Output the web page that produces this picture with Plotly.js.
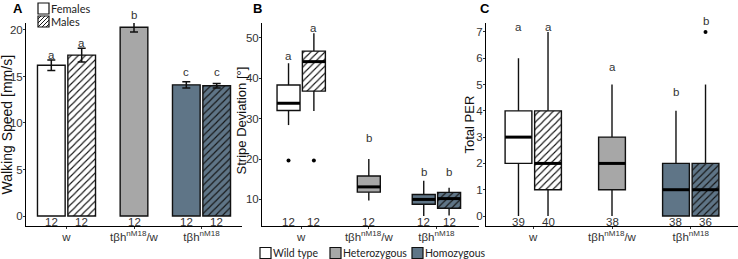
<!DOCTYPE html>
<html><head><meta charset="utf-8">
<script src="https://cdn.plot.ly/plotly-3.0.1.min.js"></script>
<style>html,body{margin:0;padding:0;background:#fff}#chart{width:738px;height:259px}</style>
</head><body><div id="chart"></div>
<script>
// ---------------- data ----------------
const groupLabels = ['w', 'tβh<sup>nM18</sup>/w', 'tβh<sup>nM18</sup>'];
const groupValues = [1, 2, 3];
const boxGroup = [1, 1, 2, 3, 3];
const boxSex = ['F', 'M', 'F', 'F', 'M'];
const boxGenotype = ['Wild type', 'Wild type', 'Heterozygous', 'Homozygous', 'Homozygous'];
const genotypeNames = ['Wild type', 'Heterozygous', 'Homozygous'];
const sexNames = ['Females', 'Males'];

// A: walking speed (mean ± SE)
const speedMean = [16.2, 17.3, 20.3, 14.1, 14.0];
const speedSE = [0.57, 0.73, 0.52, 0.34, 0.24];
const speedN = [12, 12, 12, 12, 12];
const speedLetters = ['a', 'a', 'b', 'c', 'c'];
const speedLetterY = [17.3, 18.6, 21.6, 15.5, 15.5];
const speedTicks = [0, 5, 10, 15, 20];

// B: stripe deviation (box stats)
const stripeLow = [28.4, 31.9, 9.75, 5.9, 6.0];
const stripeQ1 = [32.0, 36.8, 11.8, 8.8, 7.8];
const stripeMed = [33.8, 44.1, 13.1, 10.0, 10.2];
const stripeQ3 = [38.3, 46.7, 15.8, 11.2, 11.75];
const stripeHigh = [43.7, 51.1, 20.0, 14.6, 12.9];
const stripeOutBox = [0, 1];
const stripeOutVal = [19.6, 19.6];
const stripeN = [12, 12, 12, 12, 12];
const stripeLetters = ['a', 'a', 'b', 'b', 'b'];
const stripeLetterY = [45.5, 52.4, 25.3, 16.8, 16.8];
const stripeTicks = [10, 20, 30, 40, 50];

// C: total PER (box stats)
const perLow = [0, 0, 0, 0, 0];
const perQ1 = [2, 1, 1, 0, 0];
const perMed = [3, 2, 2, 1, 1];
const perQ3 = [4, 4, 3, 2, 2];
const perHigh = [6, 7, 5, 4, 5];
const perOutBox = [4];
const perOutVal = [7];
const perN = [39, 40, 38, 38, 36];
const perLetters = ['a', 'a', 'a', 'b', 'b'];
const perLetterY = [7.19, 7.19, 5.67, 4.73, 7.4];
const perTicks = [0, 1, 2, 3, 4, 5, 6, 7];

// ---------------- styles ----------------
const W = 738, H = 259;
const px = v => v / W, py = v => 1 - v / H;
const colorOf = {'Wild type': '#ffffff', 'Heterozygous': '#a7a7a7', 'Homozygous': '#5f7587'};
const fills = boxGenotype.map(g => colorOf[g]);
const SANS = 'Liberation Sans, Arial, sans-serif';
const LEG = 'Lato, Liberation Sans, sans-serif';
const LINE = '#111';

function positions(dodge) {
  return boxGroup.map((g, i) => {
    const members = boxGroup.filter(x => x === g).length;
    if (members === 1) return g;
    return g + (boxSex[i] === 'F' ? -dodge : dodge);
  });
}
const posA = positions(0.225), posBC = positions(0.1875);
const barW = 0.41, boxW = 0.34;

function markerFor(i) {
  const m = {color: fills[i], line: {color: LINE, width: 1.4}};
  if (boxSex[i] === 'M') {
    m.pattern = {shape: '/', fgcolor: '#141414', bgcolor: fills[i], fgopacity: 1, size: 5, solidity: 0.22, fillmode: 'replace'};
  }
  return m;
}

const traces = [];
// Panel A bars, one trace per bar
speedMean.forEach((v, i) => {
  traces.push({
    type: 'bar', x: [posA[i]], y: [v], width: barW, xaxis: 'x', yaxis: 'y',
    marker: markerFor(i),
    error_y: {type: 'data', array: [speedSE[i]], visible: true, color: LINE, thickness: 1.5, width: 4},
    hoverinfo: 'skip', showlegend: false
  });
});

function boxTraces(pos, lo, q1, med, q3, hi, outBox, outVal, xa, ya) {
  const out = [];
  pos.forEach((p, i) => {
    out.push({
      type: 'bar', x: [p], base: [q1[i]], y: [q3[i] - q1[i]], width: boxW, xaxis: xa, yaxis: ya,
      marker: markerFor(i), hoverinfo: 'skip', showlegend: false
    });
  });
  const wx = [], wy = [], mx = [], my = [];
  pos.forEach((p, i) => {
    wx.push(p, p, null, p, p, null);
    wy.push(lo[i], q1[i], null, q3[i], hi[i], null);
    mx.push(p - boxW / 2, p + boxW / 2, null);
    my.push(med[i], med[i], null);
  });
  out.push({type: 'scatter', mode: 'lines', x: wx, y: wy, xaxis: xa, yaxis: ya,
    line: {color: LINE, width: 1.4}, hoverinfo: 'skip', showlegend: false});
  out.push({type: 'scatter', mode: 'lines', x: mx, y: my, xaxis: xa, yaxis: ya,
    line: {color: '#000', width: 3}, hoverinfo: 'skip', showlegend: false});
  out.push({type: 'scatter', mode: 'markers', x: outBox.map(i => pos[i]), y: outVal, xaxis: xa, yaxis: ya,
    marker: {color: '#000', size: 4}, hoverinfo: 'skip', showlegend: false, cliponaxis: false});
  return out;
}
traces.push(...boxTraces(posBC, stripeLow, stripeQ1, stripeMed, stripeQ3, stripeHigh, stripeOutBox, stripeOutVal, 'x2', 'y2'));
traces.push(...boxTraces(posBC, perLow, perQ1, perMed, perQ3, perHigh, perOutBox, perOutVal, 'x3', 'y3'));

// ---------------- layout ----------------
const axCommon = {
  showline: true, linecolor: '#000', linewidth: 1, ticks: 'outside', ticklen: 2, tickwidth: 1,
  tickcolor: '#333', showgrid: false, zeroline: false, fixedrange: true, ticklabelstandoff: -2,
  tickfont: {family: SANS, size: 11.5, color: '#333'}
};
const yDom = [py(226), py(23)];
const rangeA = [-1.075, 20.75], rangeB = [3.42, 53.66], rangeC = [-0.38, 7.34];
const layout = {
  width: W, height: H, margin: {l: 0, r: 0, t: 0, b: 0},
  paper_bgcolor: '#fff', plot_bgcolor: 'rgba(0,0,0,0)', barmode: 'overlay', showlegend: false,
  font: {family: SANS, color: '#222'},
  xaxis: Object.assign({}, axCommon, {domain: [px(26), px(242)], range: [0.4, 3.6], tickvals: groupValues, ticktext: groupLabels, anchor: 'y'}),
  yaxis: Object.assign({}, axCommon, {domain: yDom, range: rangeA, tickvals: speedTicks, anchor: 'x'}),
  xaxis2: Object.assign({}, axCommon, {domain: [px(262), px(479)], range: [0.42, 3.63], tickvals: groupValues, ticktext: groupLabels, anchor: 'y2'}),
  yaxis2: Object.assign({}, axCommon, {domain: yDom, range: rangeB, tickvals: stripeTicks, anchor: 'x2'}),
  xaxis3: Object.assign({}, axCommon, {domain: [px(486), 1], range: [0.4, 3.6], tickvals: groupValues, ticktext: groupLabels, anchor: 'y3'}),
  yaxis3: Object.assign({}, axCommon, {domain: yDom, range: rangeC, tickvals: perTicks, anchor: 'x3'}),
  annotations: [], shapes: []
};
const ann = layout.annotations, shp = layout.shapes;

function panelLabels(pos, n, letters, letterY, range, xa, ya) {
  pos.forEach((p, i) => {
    ann.push({x: p, y: 0.022, xref: xa, yref: ya + ' domain', text: String(n[i]), showarrow: false,
      yanchor: 'middle', font: {family: SANS, size: 11.5, color: '#333'}});
    const frac = (letterY[i] - range[0]) / (range[1] - range[0]);
    ann.push({x: p, y: frac, xref: xa, yref: ya + ' domain', text: letters[i], showarrow: false,
      yanchor: 'middle', font: {family: SANS, size: 11.5, color: '#333'}});
  });
}
panelLabels(posA, speedN, speedLetters, speedLetterY, rangeA, 'x', 'y');
panelLabels(posBC, stripeN, stripeLetters, stripeLetterY, rangeB, 'x2', 'y2');
panelLabels(posBC, perN, perLetters, perLetterY, rangeC, 'x3', 'y3');

// axis titles
[['Walking Speed [mm/s]', 6, 14, 0.5], ['Stripe Deviation [°]', 241, 13, 0.52], ['Total PER', 469, 13, 0.5]].forEach(t => {
  ann.push({x: px(t[1]), y: yDom[0] + (yDom[1] - yDom[0]) * t[3], xref: 'paper', yref: 'paper', text: t[0], textangle: -90,
    showarrow: false, xanchor: 'center', yanchor: 'middle', font: {family: SANS, size: t[2], color: '#111'}});
});
// panel letters
[['A', 18], ['B', 257], ['C', 485]].forEach(t => {
  ann.push({x: px(t[1]), y: py(8.5), xref: 'paper', yref: 'paper', text: '<b>' + t[0] + '</b>', showarrow: false,
    xanchor: 'center', yanchor: 'middle', font: {family: SANS, size: 13, color: '#000'}});
});

// legends (drawn as shapes + text)
function legendBox(x0, y0, size, fill, hatched) {
  shp.push({type: 'rect', xref: 'paper', yref: 'paper', x0: px(x0), x1: px(x0 + size), y0: py(y0 + size), y1: py(y0),
    fillcolor: fill, line: {color: LINE, width: 1.2}, layer: 'above'});
  if (hatched) {
    let d = '';
    for (let c = x0 + y0 + 3; c < x0 + y0 + 2 * size; c += 4) {
      const xa = Math.max(x0, c - (y0 + size)), xb = Math.min(x0 + size, c - y0);
      if (xb <= xa) continue;
      d += 'M' + px(xa) + ',' + py(c - xa) + 'L' + px(xb) + ',' + py(c - xb);
    }
    shp.push({type: 'path', xref: 'paper', yref: 'paper', path: d, line: {color: '#1a1a1a', width: 1}, layer: 'above'});
  }
}
function legendText(x, y, text, size) {
  ann.push({x: px(x), y: py(y), xref: 'paper', yref: 'paper', text: text, showarrow: false,
    xanchor: 'left', yanchor: 'middle', borderpad: 0, font: {family: LEG, size: size, color: '#222'}});
}
legendBox(38, 3, 11, '#ffffff', false);  legendText(49.5, 8.5, sexNames[0], 11);
legendBox(38, 16, 11, '#ffffff', true);  legendText(49.5, 21.5, sexNames[1], 11);
const bottomX = [260, 330, 412];
genotypeNames.forEach((g, i) => {
  legendBox(bottomX[i], 247.5, 11, colorOf[g], false);
  legendText(bottomX[i] + 11.5, 253, g, 10.5);
});

Plotly.newPlot('chart', traces, layout, {staticPlot: true, displayModeBar: false});
</script></body></html>
